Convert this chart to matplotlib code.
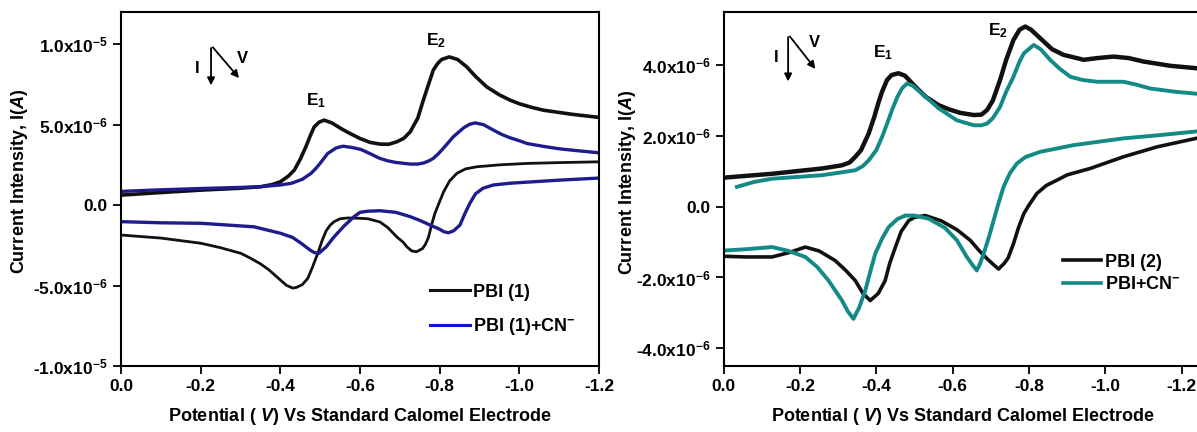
import matplotlib
matplotlib.use("Agg")
import matplotlib.pyplot as plt
from matplotlib.lines import Line2D

plt.rcParams['font.family'] = ['Liberation Sans', 'DejaVu Sans']
plt.rcParams['font.weight'] = 'bold'
plt.rcParams['mathtext.fontset'] = 'custom'
plt.rcParams['mathtext.rm'] = 'Liberation Sans:bold'
plt.rcParams['mathtext.bf'] = 'Liberation Sans:bold'
plt.rcParams['mathtext.it'] = 'Liberation Sans:bold:italic'

# --- left panel: PBI (1), current in units of 1e-6 A ---
pbi1_fwd_x = [0, -0.1, -0.2, -0.3, -0.35, -0.38, -0.4, -0.42, -0.435, -0.45, -0.464, -0.475,
              -0.485, -0.497, -0.51, -0.53, -0.552, -0.575, -0.6, -0.625, -0.65, -0.672,
              -0.692, -0.71, -0.726, -0.745, -0.759, -0.772, -0.784, -0.795, -0.805, -0.824,
              -0.845, -0.868, -0.89, -0.918, -0.95, -0.977, -1.0, -1.03, -1.06, -1.13, -1.2]
pbi1_fwd_y = [0.62, 0.78, 0.93, 1.05, 1.14, 1.28, 1.45, 1.8, 2.17, 2.85, 3.62, 4.3,
              4.86, 5.15, 5.28, 5.1, 4.76, 4.45, 4.14, 3.9, 3.79, 3.78,
              3.93, 4.15, 4.55, 5.4, 6.52, 7.5, 8.39, 8.8, 9.05, 9.21,
              9.05, 8.59, 8.0, 7.35, 6.85, 6.52, 6.3, 6.08, 5.9, 5.65, 5.45]
pbi1_rev_x = [-1.2, -1.1, -1.019, -0.95, -0.893, -0.865, -0.843, -0.825, -0.81, -0.798,
              -0.788, -0.78, -0.772, -0.764, -0.757, -0.742, -0.73, -0.718, -0.708, -0.692,
              -0.67, -0.65, -0.62, -0.6, -0.569, -0.55, -0.535, -0.525, -0.515, -0.505,
              -0.494, -0.48, -0.469, -0.455, -0.44, -0.431, -0.415, -0.393, -0.37, -0.35,
              -0.325, -0.301, -0.25, -0.2, -0.1, 0]
pbi1_rev_y = [2.69, 2.64, 2.59, 2.5, 2.38, 2.25, 1.97, 1.5, 0.83, 0.1,
              -0.52, -1.2, -2.0, -2.45, -2.7, -2.9, -2.85, -2.6, -2.3, -1.97,
              -1.4, -1.05, -0.85, -0.82, -0.8, -0.85, -1.03, -1.25, -1.6, -2.2,
              -3.0, -3.9, -4.55, -4.95, -5.12, -5.16, -4.98, -4.5, -4.0, -3.65,
              -3.3, -3.0, -2.65, -2.37, -2.05, -1.86]
cn1_fwd_x = [0, -0.1, -0.2, -0.3, -0.35, -0.4, -0.427, -0.455, -0.477, -0.49, -0.5, -0.519,
             -0.54, -0.557, -0.58, -0.602, -0.625, -0.65, -0.67, -0.69, -0.726, -0.745,
             -0.76, -0.773, -0.784, -0.797, -0.81, -0.834, -0.86, -0.875, -0.889, -0.91,
             -0.935, -0.955, -0.975, -1.0, -1.019, -1.06, -1.1, -1.15, -1.2]
cn1_fwd_y = [0.85, 0.95, 1.03, 1.1, 1.14, 1.25, 1.35, 1.6, 1.97, 2.3, 2.6, 3.21,
             3.55, 3.66, 3.58, 3.46, 3.2, 2.9, 2.75, 2.65, 2.55, 2.55,
             2.62, 2.75, 2.9, 3.2, 3.55, 4.24, 4.8, 5.02, 5.11, 5.0,
             4.66, 4.4, 4.2, 4.0, 3.83, 3.65, 3.5, 3.37, 3.25]
cn1_rev_x = [-1.2, -1.1, -0.977, -0.935, -0.909, -0.89, -0.876, -0.862, -0.851, -0.835,
             -0.822, -0.81, -0.8, -0.776, -0.75, -0.726, -0.69, -0.65, -0.62, -0.6,
             -0.585, -0.56, -0.535, -0.515, -0.497, -0.485, -0.475, -0.452, -0.43, -0.4,
             -0.334, -0.2, -0.1, 0]
cn1_rev_y = [1.68, 1.55, 1.36, 1.25, 1.05, 0.7, 0.12, -0.6, -1.24, -1.6,
             -1.72, -1.65, -1.5, -1.24, -0.95, -0.72, -0.45, -0.35, -0.38, -0.45,
             -0.72, -1.3, -1.97, -2.6, -2.99, -2.95, -2.8, -2.37, -2.0, -1.75,
             -1.35, -1.13, -1.1, -1.03]

# --- right panel: PBI (2), current in units of 1e-6 A ---
pbi2_fwd_x = [0, -0.127, -0.258, -0.31, -0.33, -0.345, -0.36, -0.38, -0.395, -0.405, -0.415,
              -0.428, -0.44, -0.458, -0.475, -0.502, -0.53, -0.563, -0.59, -0.62, -0.655,
              -0.675, -0.69, -0.705, -0.724, -0.74, -0.759, -0.775, -0.79, -0.805, -0.829,
              -0.86, -0.89, -0.943, -0.98, -1.021, -1.06, -1.1, -1.17, -1.25]
pbi2_fwd_y = [0.82, 0.93, 1.08, 1.17, 1.25, 1.41, 1.6, 2.07, 2.55, 2.92, 3.25,
              3.58, 3.72, 3.77, 3.7, 3.39, 3.1, 2.87, 2.75, 2.65, 2.59,
              2.6, 2.73, 3.0, 3.58, 4.15, 4.71, 5.0, 5.09, 5.0, 4.76,
              4.45, 4.29, 4.15, 4.2, 4.24, 4.2, 4.1, 3.98, 3.9]
pbi2_rev_x = [-1.25, -1.135, -1.047, -0.96, -0.9, -0.873, -0.845, -0.82, -0.8, -0.786,
              -0.772, -0.759, -0.745, -0.735, -0.72, -0.705, -0.69, -0.67, -0.646, -0.611,
              -0.57, -0.528, -0.5, -0.485, -0.465, -0.45, -0.435, -0.423, -0.405, -0.384,
              -0.365, -0.345, -0.32, -0.292, -0.25, -0.214, -0.17, -0.127, -0.06, 0]
pbi2_rev_y = [1.96, 1.69, 1.41, 1.08, 0.9, 0.75, 0.6, 0.37, 0.05, -0.2,
              -0.6, -1.05, -1.45, -1.6, -1.76, -1.62, -1.47, -1.25, -0.95, -0.65,
              -0.4, -0.25, -0.3, -0.39, -0.7, -1.14, -1.6, -2.09, -2.45, -2.65,
              -2.45, -2.09, -1.8, -1.52, -1.25, -1.14, -1.3, -1.42, -1.42, -1.4]
cn2_fwd_x = [-0.035, -0.08, -0.127, -0.258, -0.345, -0.365, -0.38, -0.4, -0.415, -0.43,
             -0.441, -0.455, -0.467, -0.48, -0.495, -0.519, -0.54, -0.563, -0.611, -0.655,
             -0.675, -0.69, -0.705, -0.724, -0.74, -0.759, -0.775, -0.786, -0.812, -0.83,
             -0.855, -0.88, -0.908, -0.94, -0.978, -1.047, -1.08, -1.117, -1.18, -1.25]
cn2_fwd_y = [0.56, 0.7, 0.79, 0.89, 1.03, 1.15, 1.31, 1.6, 1.97, 2.4,
             2.73, 3.1, 3.34, 3.48, 3.42, 3.2, 3.0, 2.78, 2.44, 2.3,
             2.3, 2.35, 2.5, 2.82, 3.25, 3.67, 4.1, 4.33, 4.57, 4.45,
             4.15, 3.9, 3.67, 3.58, 3.53, 3.53, 3.45, 3.34, 3.25, 3.18]
cn2_rev_x = [-1.25, -1.14, -1.047, -0.917, -0.829, -0.79, -0.768, -0.75, -0.733, -0.72,
             -0.707, -0.695, -0.681, -0.67, -0.663, -0.652, -0.637, -0.611, -0.58, -0.537,
             -0.5, -0.476, -0.455, -0.432, -0.415, -0.397, -0.385, -0.371, -0.355, -0.34,
             -0.325, -0.31, -0.275, -0.245, -0.214, -0.17, -0.127, -0.06, 0]
cn2_rev_y = [2.14, 2.02, 1.93, 1.74, 1.55, 1.4, 1.22, 0.95, 0.56, 0.1,
             -0.39, -0.85, -1.33, -1.65, -1.8, -1.65, -1.42, -0.95, -0.6, -0.34,
             -0.25, -0.25, -0.35, -0.58, -0.9, -1.33, -1.8, -2.37, -2.85, -3.17,
             -2.95, -2.65, -2.09, -1.7, -1.42, -1.25, -1.14, -1.2, -1.24]

x_ticks = [0.0, -0.2, -0.4, -0.6, -0.8, -1.0, -1.2]
x_tick_labels = ['0.0', '-0.2', '-0.4', '-0.6', '-0.8', '-1.0', '-1.2']
left_y_ticks = [1.0e-5, 5.0e-6, 0.0, -5.0e-6, -1.0e-5]
left_y_labels = [r'1.0x10$^{\mathbf{-5}}$', r'5.0x10$^{\mathbf{-6}}$', '0.0',
                 r'-5.0x10$^{\mathbf{-6}}$', r'-1.0x10$^{\mathbf{-5}}$']
right_y_ticks = [4.0e-6, 2.0e-6, 0.0, -2.0e-6, -4.0e-6]
right_y_labels = [r'4.0x10$^{\mathbf{-6}}$', r'2.0x10$^{\mathbf{-6}}$', '0.0',
                  r'-2.0x10$^{\mathbf{-6}}$', r'-4.0x10$^{\mathbf{-6}}$']

black = '#111111'
navy = '#1c1c8e'
teal = '#138a86'

def scale(v):
    return [a * 1e-6 for a in v]

fig = plt.figure(figsize=(11.97, 4.32), dpi=100)
ax1 = fig.add_axes([0.1011, 0.1528, 0.3993, 0.8194])
ax2 = fig.add_axes([0.6045, 0.1528, 0.3988, 0.8194])

# left
ax1.plot(pbi1_fwd_x, scale(pbi1_fwd_y), color=black, lw=2.6, solid_joinstyle='round')
ax1.plot(pbi1_rev_x, scale(pbi1_rev_y), color=black, lw=2.0, solid_joinstyle='round')
ax1.plot(cn1_fwd_x, scale(cn1_fwd_y), color=navy, lw=2.4, solid_joinstyle='round')
ax1.plot(cn1_rev_x, scale(cn1_rev_y), color=navy, lw=2.4, solid_joinstyle='round')
ax1.set_xlim(0, -1.2)
ax1.set_ylim(-1.0e-5, 1.2e-5)
ax1.set_yticks(left_y_ticks, left_y_labels)

# right
ax2.plot(pbi2_fwd_x, scale(pbi2_fwd_y), color=black, lw=3.2, solid_joinstyle='round')
ax2.plot(pbi2_rev_x, scale(pbi2_rev_y), color=black, lw=2.6, solid_joinstyle='round')
ax2.plot(cn2_fwd_x, scale(cn2_fwd_y), color=teal, lw=2.8, solid_joinstyle='round')
ax2.plot(cn2_rev_x, scale(cn2_rev_y), color=teal, lw=2.8, solid_joinstyle='round')
ax2.set_xlim(0, -1.25)
ax2.set_ylim(-4.5e-6, 5.5e-6)
ax2.set_yticks(right_y_ticks, right_y_labels)

for ax in (ax1, ax2):
    ax.set_xticks(x_ticks, x_tick_labels)
    ax.tick_params(direction='out', length=5.5, width=1.3, labelsize=12.5, pad=4)
    for s in ax.spines.values():
        s.set_linewidth(1.5)
    ax.set_xlabel(r'Potential ( $\mathit{V}$) Vs Standard Calomel Electrode',
                  fontsize=13, fontweight='bold')
    ax.set_ylabel(r'Current Intensity, I($\mathit{A}$)', fontsize=13, fontweight='bold')
    ax.xaxis.set_label_coords(0.5, -0.112)

ax1.yaxis.set_label_coords(-0.19, 0.52)
ax2.yaxis.set_label_coords(-0.179, 0.517)

# I / V direction marks and peak labels
arrow_kw = dict(arrowstyle='-|>', color='black', lw=1.3, mutation_scale=11)
ax1.annotate('', xy=(-0.226, 7.27e-6), xytext=(-0.226, 9.94e-6), arrowprops=arrow_kw)
ax1.annotate('', xy=(-0.301, 7.76e-6), xytext=(-0.226, 9.94e-6), arrowprops=arrow_kw)
ax1.text(-0.19, 8.5e-6, 'I', fontsize=12, ha='center', va='center')
ax1.text(-0.304, 9.13e-6, 'V', fontsize=12, ha='center', va='center')
ax1.text(-0.49, 6.5e-6, r'E$_{\mathbf{1}}$', fontsize=12.5, ha='center', va='center')
ax1.text(-0.79, 10.2e-6, r'E$_{\mathbf{2}}$', fontsize=12.5, ha='center', va='center')

ax2.annotate('', xy=(-0.169, 3.46e-6), xytext=(-0.169, 4.87e-6), arrowprops=arrow_kw)
ax2.annotate('', xy=(-0.245, 3.83e-6), xytext=(-0.169, 4.87e-6), arrowprops=arrow_kw)
ax2.text(-0.139, 4.21e-6, 'I', fontsize=12, ha='center', va='center')
ax2.text(-0.237, 4.64e-6, 'V', fontsize=12, ha='center', va='center')
ax2.text(-0.417, 4.36e-6, r'E$_{\mathbf{1}}$', fontsize=12.5, ha='center', va='center')
ax2.text(-0.718, 4.97e-6, r'E$_{\mathbf{2}}$', fontsize=12.5, ha='center', va='center')

# legends
h1 = [Line2D([], [], color=black, lw=2.2), Line2D([], [], color='#1010e0', lw=2.2)]
ax1.legend(h1, ['PBI (1)', r'PBI (1)+CN$^{\mathbf{-}}$'], loc='center left',
           bbox_to_anchor=(0.646, 0.157), frameon=False, fontsize=13,
           handlelength=2.2, handletextpad=0.2, labelspacing=0.85,
           borderpad=0, borderaxespad=0)
h2 = [Line2D([], [], color=black, lw=2.6), Line2D([], [], color=teal, lw=2.6)]
ax2.legend(h2, ['PBI (2)', r'PBI+CN$^{\mathbf{-}}$'], loc='center left',
           bbox_to_anchor=(0.712, 0.262), frameon=False, fontsize=13,
           handlelength=2.1, handletextpad=0.2, labelspacing=0.3,
           borderpad=0, borderaxespad=0)

fig.savefig('out.png', dpi=100)
